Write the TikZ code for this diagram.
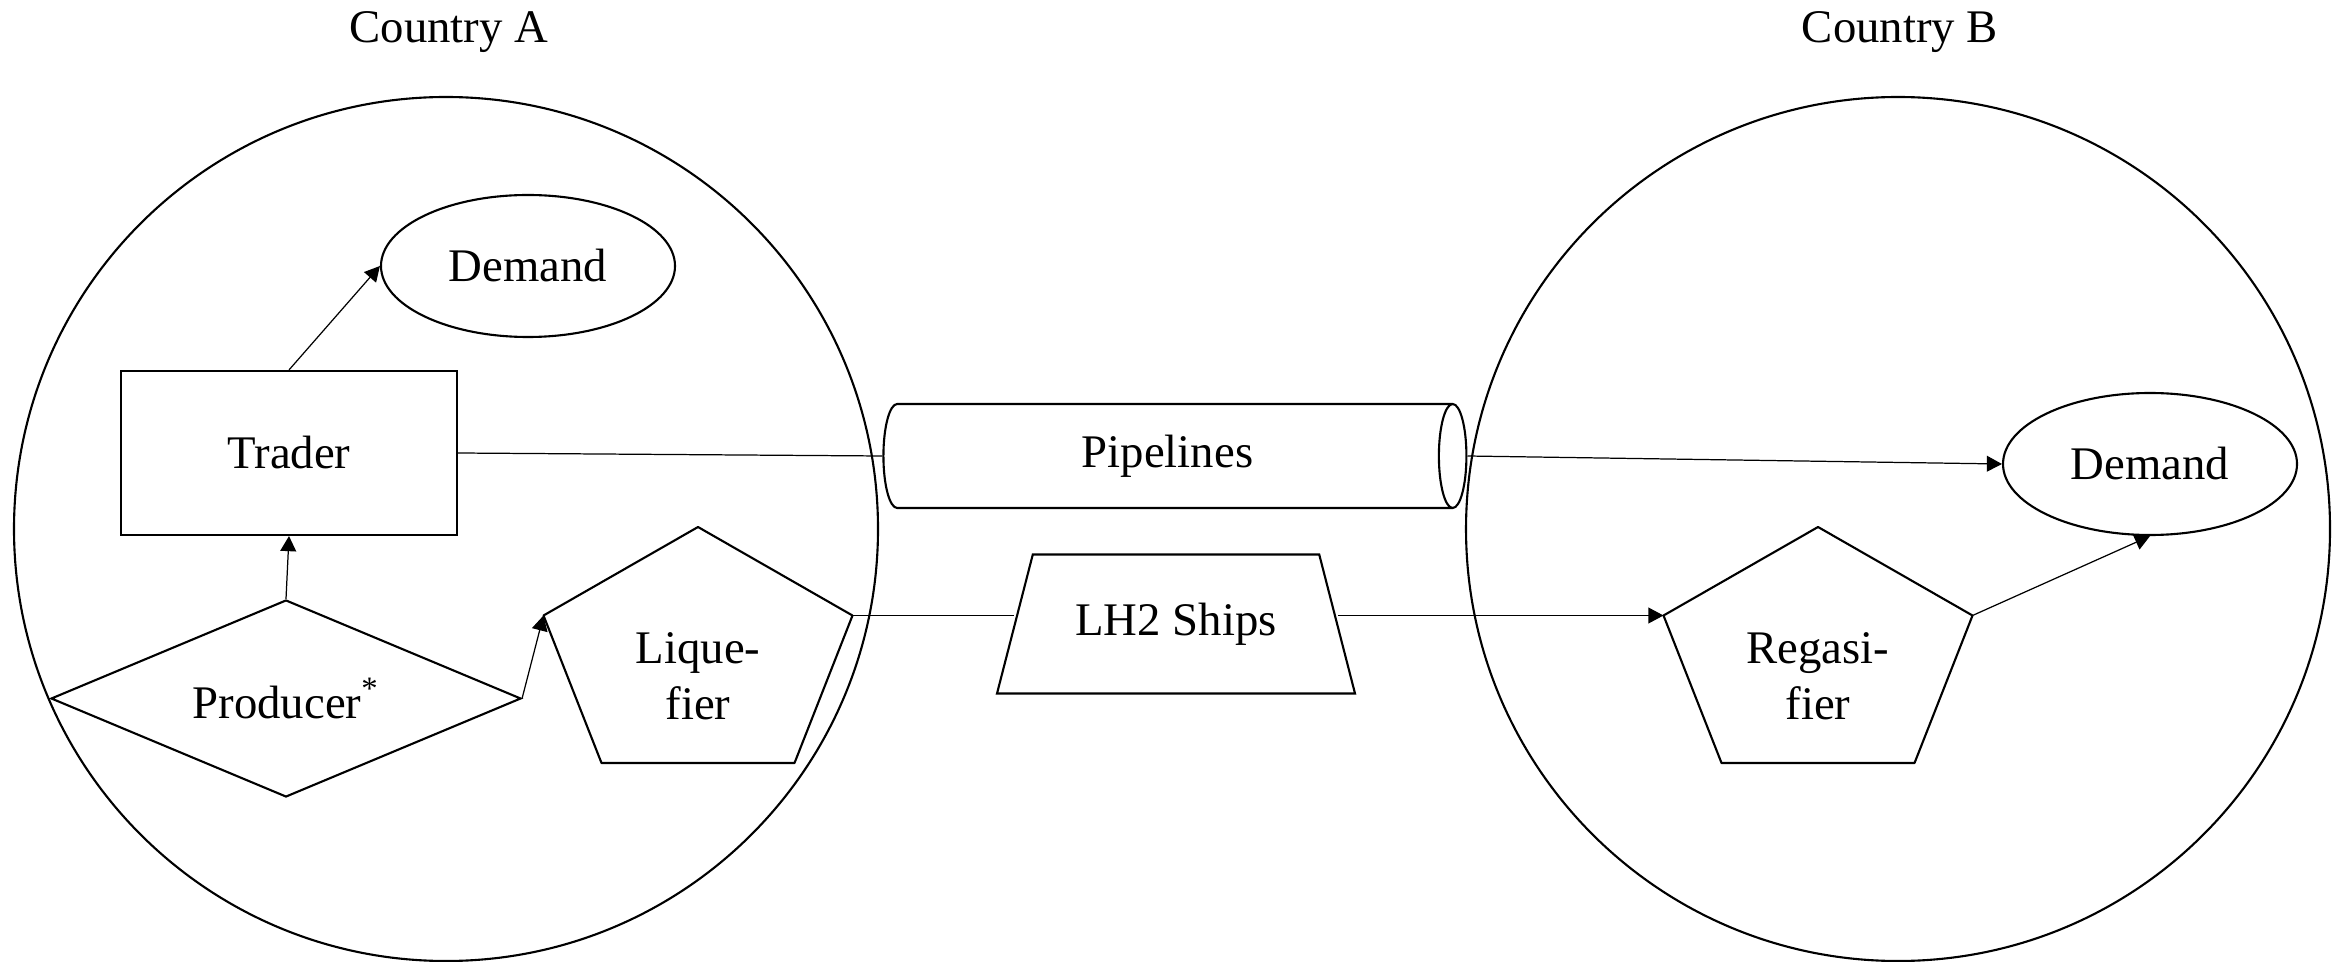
\documentclass[tikz,border=0pt]{standalone}
\usepackage{fontspec}
\setmainfont{Liberation Serif}
\usetikzlibrary{arrows.meta,calc,shapes.geometric}
\usepackage{tkz-euclide}

\tikzset{
  every node/.style={font=\fontsize{13.3}{16}\selectfont,inner sep=0pt},
  shp/.style={draw,line width=0.6pt},
  flow/.style={line width=0.35pt},
  arr/.style={flow,-{Triangle[length=4.3pt,width=4.5pt]}},
}

\begin{document}
\begin{tikzpicture}
\useasboundingbox (0,0) rectangle (23.48,9.61);
\tkzSetUpLine[line width=0.6pt,color=black]

\tkzDefPoints{4.46/4.32/OA,4.46/8.64/RA,18.98/4.32/OB,18.98/8.64/RB}
% corners of the two pentagons
\tkzDefPoints{6.98/4.34/L1,8.525/3.455/L2,7.945/1.98/L3,6.015/1.98/L4,5.435/3.455/L5}
\tkzDefPoints{18.18/4.34/R1,19.725/3.455/R2,19.145/1.98/R3,17.215/1.98/R4,16.635/3.455/R5}

\tkzDrawCircle[line width=0.6pt,color=black](OA,RA)
\tkzDrawCircle[line width=0.6pt,color=black](OB,RB)
\tkzDrawPolygon(L1,L2,L3,L4,L5)
\tkzDrawPolygon(R1,R2,R3,R4,R5)

\node[anchor=base] (ctyA) at (4.49,9.18) {Country A};
\node[anchor=base] (ctyB) at (19.00,9.18) {Country B};

\node[ellipse,shp,minimum width=2.94cm,minimum height=1.42cm] (demA) at (5.28,6.95) {Demand};
\node[rectangle,shp,minimum width=3.36cm,minimum height=1.64cm] (trader) at (2.89,5.08) {Trader};
\node[diamond,shp,aspect=2.4,minimum width=4.70cm,minimum height=1.97cm] (prod) at (2.86,2.625) {Producer\textsuperscript{*}};
\node[align=center] (liq) at (6.98,2.85) {Lique-\\fier};

% cylinder sizes are taken along its axis
\node[cylinder,shp,aspect=0.65,minimum width=1.04cm,minimum height=5.83cm] (pipe) at (11.675,5.05) {Pipelines};
\node[trapezium,shp,trapezium left angle=75.5,trapezium right angle=75.5,trapezium stretches body,
  inner ysep=0.48cm,minimum width=3.58cm,minimum height=1.39cm] (ships) at (11.76,3.37) {LH2 Ships};

\node[align=center] (regas) at (18.18,2.85) {Regasi-\\fier};
\node[ellipse,shp,minimum width=2.94cm,minimum height=1.42cm] (demB) at (21.50,4.97) {Demand};

\draw[arr] (trader.north) -- (demA.west);
\draw[arr] (prod.north) -- (trader.south);
\draw[arr] (prod.east) -- (L5);
\draw[flow] (trader.east) -- (pipe.west);
\draw[arr] (pipe.east) -- (demB.west);
\draw[flow] (L2) -- (L2 -| ships.west);
\draw[arr] (R5 -| ships.east) -- (R5);
\draw[arr] (R2) -- (demB.south);

\end{tikzpicture}
\end{document}
